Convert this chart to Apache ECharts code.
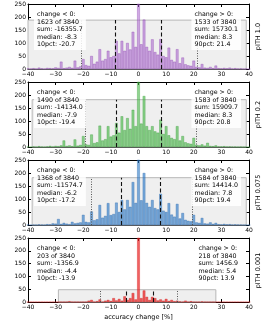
<!DOCTYPE html>
<html><head><meta charset="utf-8">
<script src="https://cdn.jsdelivr.net/npm/echarts@6/dist/echarts.min.js"></script>
<style>html,body{margin:0;padding:0;background:#fff}#c{width:269px;height:322px}</style>
</head><body><div id="c"></div>
<script>
// ---- data ----
const bins = [-40,-39,-38,-37,-36,-35,-34,-33,-32,-31,-30,-29,-28,-27,-26,-25,-24,-23,-22,-21,-20,-19,-18,-17,-16,-15,-14,-13,-12,-11,-10,-9,-8,-7,-6,-5,-4,-3,-2,-1,0,1,2,3,4,5,6,7,8,9,10,11,12,13,14,15,16,17,18,19,20,21,22,23,24,25,26,27,28,29,30,31,32,33,34,35,36,37,38,39,40];
const panelLabels = ['pITH 1.0','pITH 0.2','pITH 0.075','pITH 0.001'];
const countsP1 = [2,0,3,0,5,2,0,4,3,2, 6,4,28,3,5,8,4,32,6,10, 38,15,12,50,20,28,76,32,38,70, 45,50,108,60,108,70,100,75,143,85, 684, 95,190,85,70,114,65,55,115,50,45, 82,35,28,76,22,44,18,14,12,32, 8,6,19,5,4,8,3,13,3,2, 4,2,5,1,3,1,2,0,1,0];
const countsP2 = [1,0,2,0,3,1,0,2,4,1, 4,3,6,25,4,6,3,29,5,8, 42,10,8,48,15,18,82,25,30,80, 40,45,92,55,118,65,111,70,143,80, 767, 90,196,80,65,80,60,55,105,50,80, 45,35,30,80,25,42,18,14,12,35, 8,6,10,5,16,4,3,6,2,2, 3,1,2,1,1,0,1,0,0,0];
const countsP3 = [1,0,1,0,2,1,0,3,2,6, 5,23,4,8,5,3,12,6,8,10, 39,12,10,52,18,22,77,28,35,84, 38,42,86,50,96,60,96,70,165,85, 888, 95,200,85,70,96,65,60,120,55,50, 84,40,32,81,25,46,20,16,14,39, 10,8,27,6,5,10,4,8,3,2, 4,2,3,1,2,1,1,0,0,0];
const countsP4 = [0,0,0,0,0,0,0,0,0,0, 0,0,0,0,0,3,0,0,0,0, 0,0,5,8,0,3,10,0,5,8, 4,15,6,12,5,22,8,15,35,10, 3419, 15,45,20,8,20,15,6,10,5,12, 4,8,3,5,2,0,5,0,3,0, 0,0,2,0,0,0,0,0,0,0, 0,0,0,0,0,0,0,0,0,0];
const total = 3840;
const negCount = [1623,1490,1368,203];
const posCount = [1533,1583,1584,218];
const negSum = [-16355.7,-14134.0,-11574.7,-1356.9];
const posSum = [15730.1,15909.7,14414.0,1456.9];
const negMedian = [-8.3,-7.9,-6.2,-4.4];
const posMedian = [8.3,8.3,7.8,5.4];
const pct10 = [-20.7,-19.4,-17.2,-13.9];
const pct90 = [21.4,20.8,19.4,13.9];
const boxXmin = [-40,-38.5,-38.5,-29];
const boxXmax = [39,39,39,28];
const boxHeight = [188,182,182,48];
const xTicks = [-40,-30,-20,-10,0,10,20,30,40];
const yTicks = [0,50,100,150,200,250];

// ---- styles ----
const counts = [countsP1,countsP2,countsP3,countsP4];
const fills = ['rgba(170,100,205,0.55)','rgba(70,185,70,0.6)','rgba(40,120,200,0.6)','rgba(235,30,30,0.7)'];
const edges = ['rgba(135,60,175,0.85)','rgba(45,150,45,0.85)','rgba(30,95,170,0.85)','rgba(210,20,20,0.9)'];
const tops = [4,82,160,238];
const H = 65, L = 28, R = 20;
const FONT = '"DejaVu Sans", sans-serif';
const fmtMinus = v => (v < 0 ? '\u2212' + (-v) : '' + v);
const fmtNum = v => (v < 0 ? '-' : '') + Math.abs(v).toFixed(1);

const grids=[], xAxes=[], yAxes=[], series=[], graphics=[];
for (let i=0;i<4;i++){
  grids.push({left:L,right:R,top:tops[i],height:H,containLabel:false,show:false});
  xAxes.push({type:'value',gridIndex:i,min:xTicks[0],max:xTicks[xTicks.length-1],interval:10,position:'bottom',
    axisLine:{show:true,onZero:false,lineStyle:{color:'#000',width:1}},
    axisTick:{show:true,inside:true,length:3,lineStyle:{color:'#000'}},
    axisLabel:{show:true,fontSize:6,color:'#000',fontFamily:FONT,margin:2,formatter:fmtMinus},
    splitLine:{show:false},
    name: i===3 ? 'accuracy change [%]' : '', nameLocation:'middle', nameGap:12,
    nameTextStyle:{fontSize:6.5,color:'#000',fontFamily:FONT}});
  xAxes.push({type:'value',gridIndex:i,min:-40,max:40,interval:10,position:'top',
    axisLine:{show:true,onZero:false,lineStyle:{color:'#000',width:1}},
    axisTick:{show:true,inside:true,length:3,lineStyle:{color:'#000'}},
    axisLabel:{show:false},splitLine:{show:false}});
  yAxes.push({type:'value',gridIndex:i,min:yTicks[0],max:yTicks[yTicks.length-1],interval:50,position:'left',
    axisLine:{show:true,onZero:false,lineStyle:{color:'#000',width:1}},
    axisTick:{show:true,inside:true,length:3,lineStyle:{color:'#000'}},
    axisLabel:{show:true,fontSize:6,color:'#000',fontFamily:FONT,margin:2},
    splitLine:{show:false}});
  yAxes.push({type:'value',gridIndex:i,min:0,max:250,interval:50,position:'right',
    axisLine:{show:true,onZero:false,lineStyle:{color:'#000',width:1}},
    axisTick:{show:true,inside:true,length:3,lineStyle:{color:'#000'}},
    axisLabel:{show:false},splitLine:{show:false}});
  const xi = 2*i, yi = 2*i;
  const bh = boxHeight[i];
  series.push({type:'line',xAxisIndex:xi,yAxisIndex:yi,data:[],z:1,silent:true,
    markArea:{silent:true,label:{show:false},itemStyle:{color:'#efefef',borderColor:'#b8b8b8',borderWidth:1},
      data:[[{coord:[boxXmin[i],0]},{coord:[boxXmax[i],bh]}]]},
    markLine:{silent:true,symbol:['none','none'],label:{show:false},
      data:[
        [{coord:[negMedian[i],0],lineStyle:{type:[4,2.5],color:'#111',width:1.1}},{coord:[negMedian[i],bh]}],
        [{coord:[posMedian[i],0],lineStyle:{type:[4,2.5],color:'#111',width:1.1}},{coord:[posMedian[i],bh]}],
        [{coord:[pct10[i],0],lineStyle:{type:[1,1.5],color:'#555',width:1}},{coord:[pct10[i],bh]}],
        [{coord:[pct90[i],0],lineStyle:{type:[1,1.5],color:'#555',width:1}},{coord:[pct90[i],bh]}]
      ]}});
  series.push({type:'bar',xAxisIndex:xi,yAxisIndex:yi,z:3,clip:true,barWidth:2.6,silent:true,
    itemStyle:{color:fills[i],borderColor:edges[i],borderWidth:0.4},
    data: bins.map((b,j)=>[b,counts[i][j]])});
  const leftText = ['change < 0:', negCount[i]+' of '+total, 'sum: '+fmtNum(negSum[i]), 'median: '+fmtNum(negMedian[i]), '10pct: '+fmtNum(pct10[i])].join('\n');
  const rightText = ['change > 0:', posCount[i]+' of '+total, 'sum: '+fmtNum(posSum[i]), 'median: '+fmtNum(posMedian[i]), '90pct: '+fmtNum(pct90[i])].join('\n');
  graphics.push({type:'text',left:34,top:tops[i]+5,z:100,silent:true,
    style:{text:leftText,font:'6.3px '+FONT,lineHeight:7.4,fill:'#000',align:'left',
      backgroundColor:'rgba(255,255,255,0.85)',padding:[2,3,2,3]}});
  graphics.push({type:'text',right:28,top:tops[i]+5,z:100,silent:true,
    style:{text:rightText,font:'6.3px '+FONT,lineHeight:7.4,fill:'#000',align:'right',
      backgroundColor:'rgba(255,255,255,0.85)',padding:[2,3,2,3]}});
  graphics.push({type:'text',x:258,y:tops[i]+H/2,rotation:Math.PI/2,z:100,silent:true,
    style:{text:panelLabels[i],font:'6.5px '+FONT,fill:'#000',align:'center',verticalAlign:'middle'}});
}

const chart = echarts.init(document.getElementById('c'),null,{renderer:'canvas'});
chart.setOption({animation:false,grid:grids,xAxis:xAxes,yAxis:yAxes,series:series,graphic:graphics});
</script></body></html>
